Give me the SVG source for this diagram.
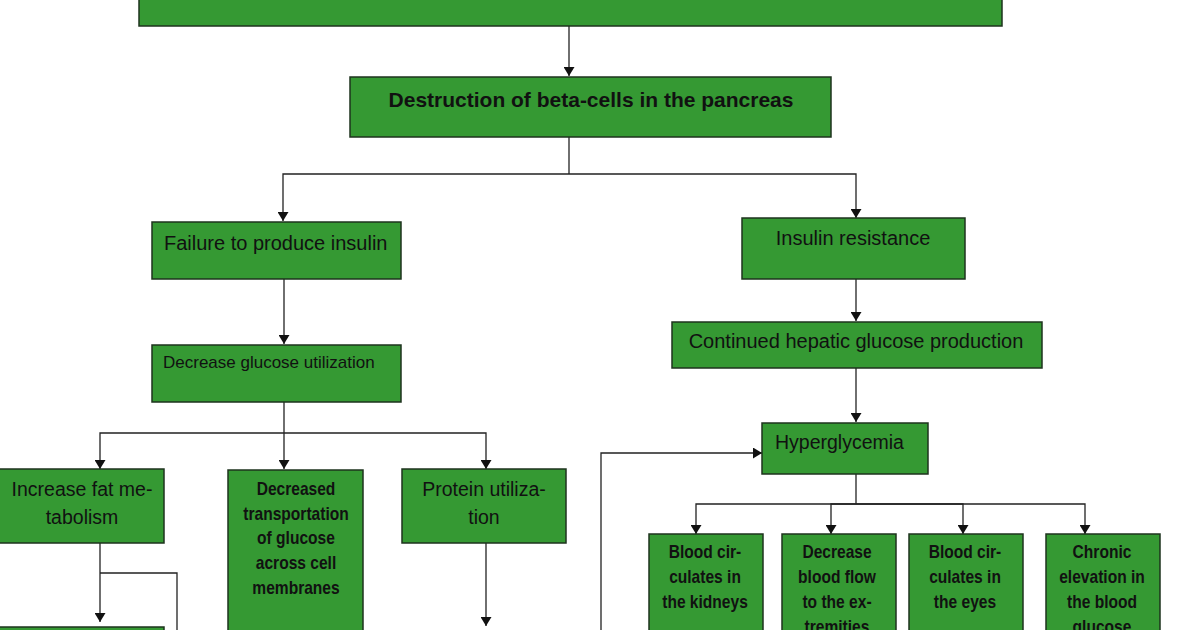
<svg xmlns="http://www.w3.org/2000/svg" width="1200" height="630" viewBox="0 0 1200 630">
<defs>
<marker id="arr" markerUnits="userSpaceOnUse" markerWidth="9" markerHeight="11" refX="9" refY="5.5" orient="auto">
<path d="M0,0 L9,5.5 L0,11 z" fill="#111"/>
</marker>
<style>
.box{fill:#359933;stroke:#1e331e;stroke-width:1.5}
.t{font-family:"Liberation Sans",Arial,sans-serif;fill:#111}
.tb{font-family:"Liberation Sans",Arial,sans-serif;fill:#111;font-weight:bold;font-size:17.5px;text-anchor:middle}
.c{fill:none;stroke:#222;stroke-width:1.3}
.ca{fill:none;stroke:#222;stroke-width:1.3;marker-end:url(#arr)}
</style>
</defs>
<rect width="1200" height="630" fill="#fff"/>
<g id="connectors">
<path class="ca" d="M569,26 V76"/>
<path class="c" d="M569,137 V174"/>
<path class="ca" d="M569,174 H283 V221"/>
<path class="ca" d="M569,174 H856 V218"/>
<path class="ca" d="M284,279 V344"/>
<path class="ca" d="M284,402 V469"/>
<path class="ca" d="M284,433 H100 V469"/>
<path class="ca" d="M284,433 H486 V469"/>
<path class="ca" d="M100,543 V622"/>
<path class="c" d="M100,573 H177 V630"/>
<path class="ca" d="M486,543 V626"/>
<path class="ca" d="M856,279 V321"/>
<path class="ca" d="M856,368 V422"/>
<path class="ca" d="M601,630 V453 H762"/>
<path class="c" d="M856,474 V504"/>
<path class="ca" d="M856,504 H696 V534"/>
<path class="ca" d="M856,504 H831 V534"/>
<path class="ca" d="M856,504 H963 V534"/>
<path class="ca" d="M856,504 H1085 V534"/>
</g>
<g id="top"><rect class="box" x="139" y="-10" width="863" height="36"/></g>
<g id="destruction"><rect class="box" x="350" y="77" width="481" height="60"/>
<text class="t" x="591" y="107" font-size="21" font-weight="bold" text-anchor="middle">Destruction of beta-cells in the pancreas</text></g>
<g id="failure"><rect class="box" x="152" y="222" width="249" height="57"/>
<text class="t" x="164" y="250" font-size="20">Failure to produce insulin</text></g>
<g id="decrease-utilization"><rect class="box" x="152" y="345" width="249" height="57"/>
<text class="t" x="163" y="368" font-size="17">Decrease glucose utilization</text></g>
<g id="fat"><rect class="box" x="-2" y="469" width="166" height="74"/>
<text class="t" x="82" y="496" font-size="19.5" text-anchor="middle">Increase fat me-</text>
<text class="t" x="82" y="524" font-size="19.5" text-anchor="middle">tabolism</text></g>
<g id="transport"><rect class="box" x="228" y="470" width="135" height="170"/>
<g transform="translate(296,0) scale(0.89,1)">
<text class="tb" x="0" y="495">Decreased</text>
<text class="tb" x="0" y="520">transportation</text>
<text class="tb" x="0" y="544">of glucose</text>
<text class="tb" x="0" y="569">across cell</text>
<text class="tb" x="0" y="594">membranes</text></g></g>
<g id="protein"><rect class="box" x="402" y="469" width="164" height="74"/>
<text class="t" x="484" y="496" font-size="19.5" text-anchor="middle">Protein utiliza-</text>
<text class="t" x="484" y="524" font-size="19.5" text-anchor="middle">tion</text></g>
<g id="fat-child"><rect class="box" x="-2" y="627" width="166" height="20"/></g>
<g id="insulin-resistance"><rect class="box" x="742" y="218" width="223" height="61"/>
<text class="t" x="853" y="245" font-size="20" text-anchor="middle">Insulin resistance</text></g>
<g id="hepatic"><rect class="box" x="672" y="322" width="370" height="46"/>
<text class="t" x="856" y="348" font-size="20" text-anchor="middle">Continued hepatic glucose production</text></g>
<g id="hyperglycemia"><rect class="box" x="762" y="423" width="166" height="51"/>
<text class="t" x="775" y="449" font-size="19.5">Hyperglycemia</text></g>
<g id="kidneys"><rect class="box" x="649" y="534" width="114" height="110"/>
<g transform="translate(705,0) scale(0.89,1)">
<text class="tb" x="0" y="558">Blood cir-</text>
<text class="tb" x="0" y="583">culates in</text>
<text class="tb" x="0" y="608">the kidneys</text></g></g>
<g id="extremities"><rect class="box" x="782" y="534" width="114" height="110"/>
<g transform="translate(837,0) scale(0.89,1)">
<text class="tb" x="0" y="558">Decrease</text>
<text class="tb" x="0" y="583">blood flow</text>
<text class="tb" x="0" y="608">to the ex-</text>
<text class="tb" x="0" y="633">tremities</text></g></g>
<g id="eyes"><rect class="box" x="909" y="534" width="114" height="110"/>
<g transform="translate(965,0) scale(0.89,1)">
<text class="tb" x="0" y="558">Blood cir-</text>
<text class="tb" x="0" y="583">culates in</text>
<text class="tb" x="0" y="608">the eyes</text></g></g>
<g id="chronic"><rect class="box" x="1046" y="534" width="114" height="110"/>
<g transform="translate(1102,0) scale(0.89,1)">
<text class="tb" x="0" y="558">Chronic</text>
<text class="tb" x="0" y="583">elevation in</text>
<text class="tb" x="0" y="608">the blood</text>
<text class="tb" x="0" y="633">glucose</text></g></g>
</svg>
